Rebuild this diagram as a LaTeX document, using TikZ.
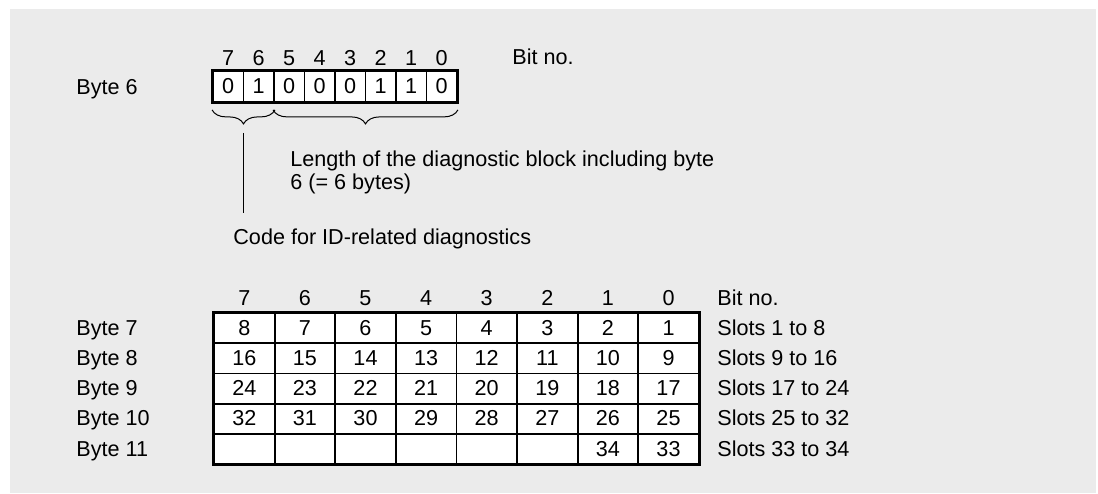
\documentclass[tikz,border=0pt]{standalone}
\usepackage{fontspec}
\setmainfont{Liberation Sans}
\usetikzlibrary{decorations.pathreplacing}

\definecolor{panel}{HTML}{EBEBEB}

\tikzset{
  lbl/.style={inner sep=0pt, text height=0.72em, text depth=0pt},
  bitcell/.style={draw, fill=white, line width=0.9pt, minimum width=15.25pt,
    minimum height=15.5pt, inner sep=0pt, text height=0.72em, text depth=0pt},
  slotcell/.style={draw, fill=white, line width=0.9pt, minimum width=30.3pt,
    minimum height=15.1pt, inner sep=0pt, text height=0.72em, text depth=0pt},
  curly/.style={decorate, decoration={brace, mirror, amplitude=7pt}, line width=0.5pt},
}

\begin{document}
\begin{tikzpicture}[x=0.5pt, y=-0.5pt, font=\fontsize{10.8pt}{11.6pt}\selectfont]
    \useasboundingbox (0,0) rectangle (1098,493);
    \fill[panel] (10,9) rectangle (1096,493);

    % byte 6: code bits and block length
    \node[lbl, anchor=west] (byte6) at (76,87) {Byte 6};
    \node[lbl, anchor=west] (bitno6) at (512,57) {Bit no.};
    \foreach \b/\v [count=\i from 0] in {7/0,6/1,5/0,4/0,3/0,2/1,1/1,0/0} {
        \node[bitcell] (b\b) at (228.25+30.5*\i,86.5) {\v};
        \node[lbl] (n\b) at (228.25+30.5*\i,58) {\b};
    }
    \draw[line width=1.2pt] (b7.north west) rectangle (b0.south east);

    \draw[curly] ([yshift=-3.5pt]b7.south west) -- ([yshift=-3.5pt]b6.south east)
        coordinate[midway, yshift=-11.5pt] (tipA);
    \draw[curly] ([yshift=-3.5pt]b5.south west) -- ([yshift=-3.5pt]b0.south east);

    \node[anchor=north west, align=left, inner sep=0pt] (lenote) at (290,150)
        {Length of the diagnostic block including byte\\6 (= 6 bytes)};
    \node[lbl, anchor=west] (idcode) at (233,237) {Code for ID-related diagnostics};
    \draw[line width=0.7pt] (tipA) -- ([yshift=8pt]tipA |- idcode.north);

    % bytes 7 to 11: one bit per slot
    \node[lbl, anchor=west] (bitno) at (717,298) {Bit no.};
    \foreach \b [count=\i from 0] in {7,...,0}
        \node[lbl] (m\b) at (244.3+60.6*\i,298) {\b};
    \foreach \byte/\lo/\hi [count=\r] in {7/1/8, 8/9/16, 9/17/24, 10/25/32, 11/33/34} {
        \node[lbl, anchor=west] (byte\byte) at (76,328.1+30.2*\r-30.2) {Byte \byte};
        \node[lbl, anchor=west] (slots\byte) at (717,328.1+30.2*\r-30.2) {Slots \lo\ to \hi};
        \foreach \b [count=\i from 0] in {7,...,0} {
            \pgfmathtruncatemacro{\v}{8*(\r-1)+\b+1}
            \node[slotcell] (c\r-\b) at (244.3+60.6*\i,328.1+30.2*\r-30.2)
                {\ifnum\v>\hi\else\v\fi};
        }
    }
    \draw[line width=1.2pt] (c1-7.north west) rectangle (c5-0.south east);
\end{tikzpicture}
\end{document}
